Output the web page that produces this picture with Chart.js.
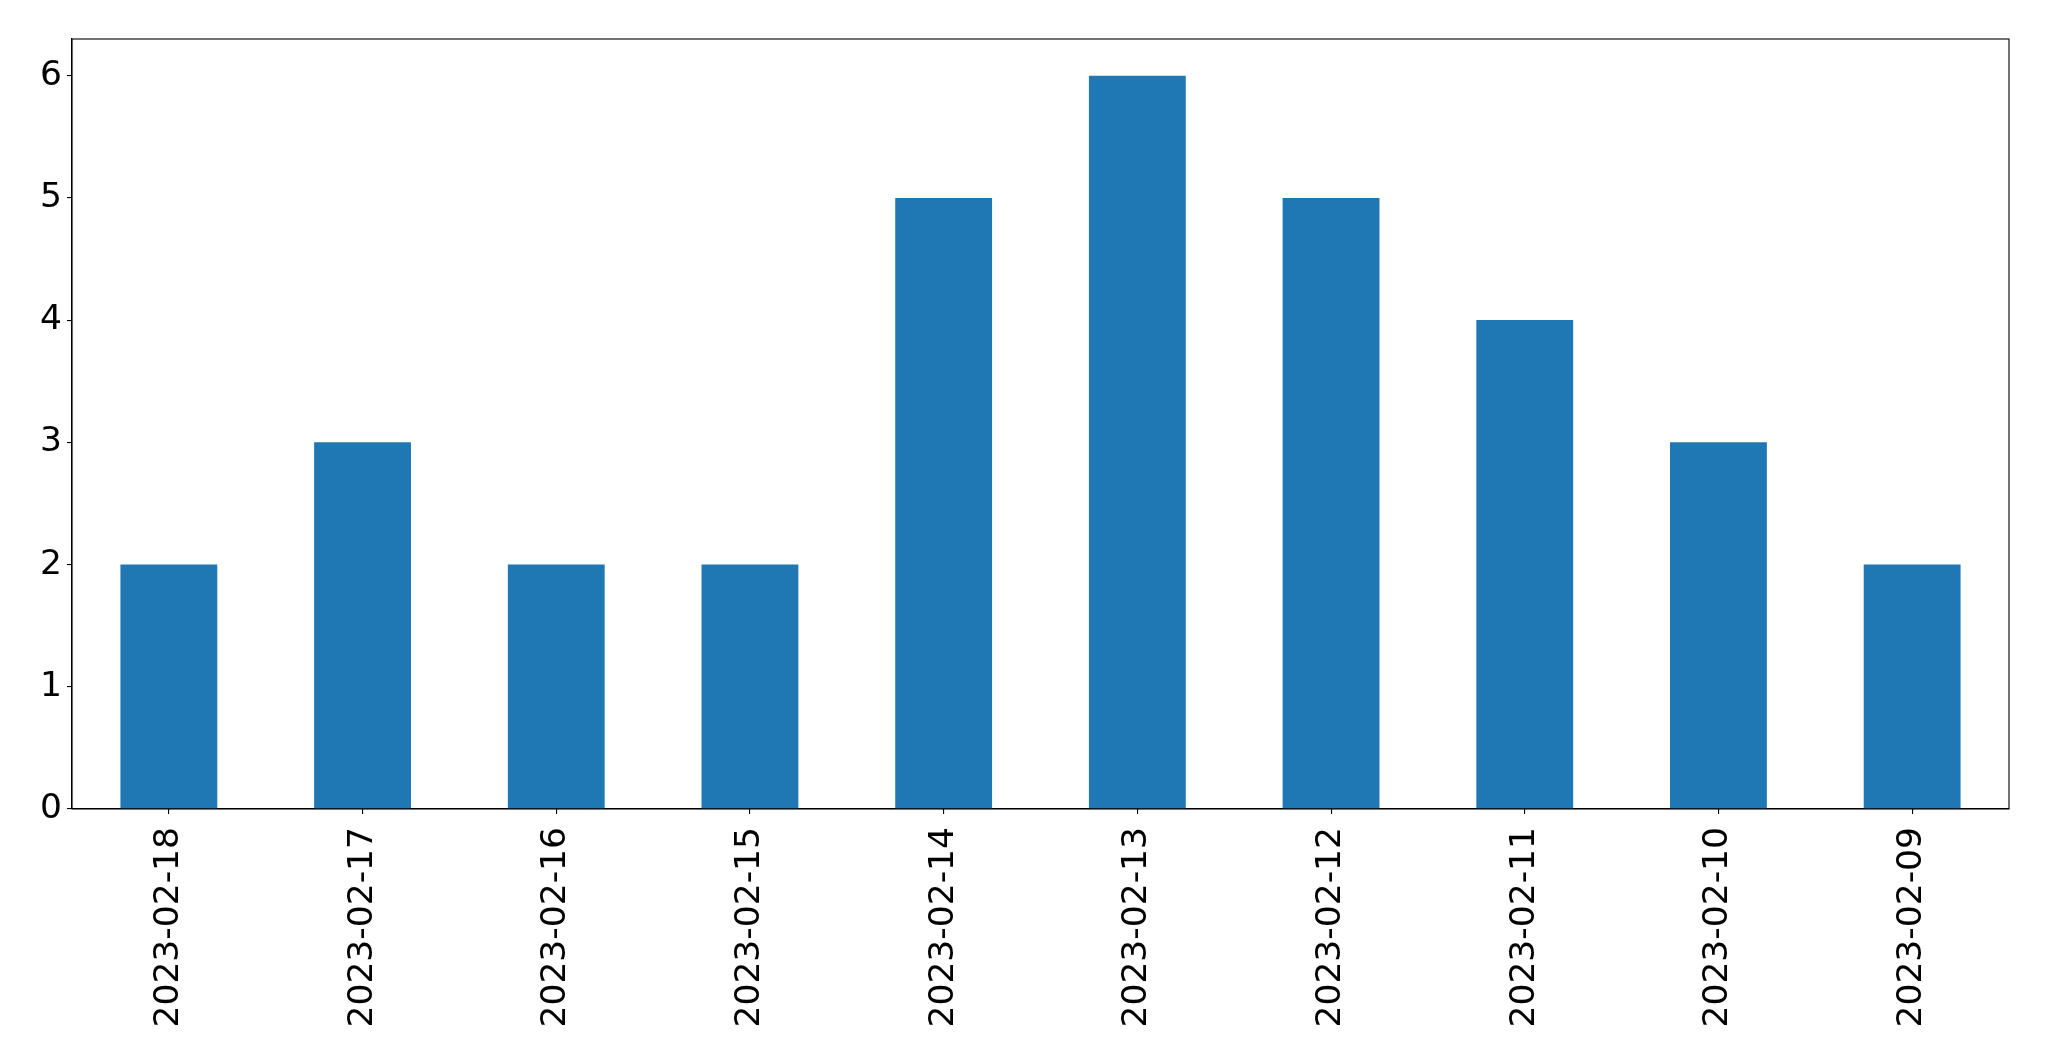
<!DOCTYPE html>
<html>
<head>
<meta charset="utf-8">
<script src="https://cdn.jsdelivr.net/npm/chart.js@4/dist/chart.umd.min.js"></script>
<style>
  html, body { margin: 0; padding: 0; background: #fff; }
  #wrap { width: 2049px; height: 1061px; }
</style>
</head>
<body>
<div id="wrap"><canvas id="barChart" width="2049" height="1061"></canvas></div>
<script>
const dates = ["2023-02-18", "2023-02-17", "2023-02-16", "2023-02-15", "2023-02-14",
               "2023-02-13", "2023-02-12", "2023-02-11", "2023-02-10", "2023-02-09"];
const counts = [2, 3, 2, 2, 5, 6, 5, 4, 3, 2];
const yTicks = [0, 1, 2, 3, 4, 5, 6];

// draws the top and right spines like matplotlib
const frameBox = {
    id: 'frameBox',
    afterDraw(chart) {
        const { ctx, chartArea: a } = chart;
        ctx.save();
        ctx.strokeStyle = '#000';
        ctx.lineWidth = 1.1;
        ctx.strokeRect(a.left, a.top, a.right - a.left, a.bottom - a.top);
        ctx.restore();
    }
};

document.addEventListener("DOMContentLoaded", () => {
    Chart.defaults.font.family = "'DejaVu Sans', sans-serif";
    Chart.defaults.font.size = 34.5;
    Chart.defaults.color = "#000";

    new Chart(document.getElementById('barChart'), {
        type: 'bar',
        data: {
            labels: dates,
            datasets: [{
                data: counts,
                backgroundColor: '#1f77b4',
                borderWidth: 0,
                barPercentage: 0.5,
                categoryPercentage: 1.0
            }]
        },
        options: {
            responsive: false,
            animation: false,
            layout: { padding: { left: 0, top: 39, right: 40, bottom: 0 } },
            plugins: { legend: { display: false }, tooltip: { enabled: false } },
            scales: {
                x: {
                    offset: true,
                    grid: { display: true, drawOnChartArea: false, drawTicks: true, tickLength: 5, color: '#000', lineWidth: 1.1, offset: false },
                    border: { display: true, color: '#000', width: 1.1 },
                    ticks: { maxRotation: 90, minRotation: 90, padding: 13, autoSkip: false },
                    afterFit: scale => { scale.height = 252; }
                },
                y: {
                    min: 0,
                    max: 6.3,
                    grid: { display: true, drawOnChartArea: false, drawTicks: true, tickLength: 5, color: '#000', lineWidth: 1.1 },
                    border: { display: true, color: '#000', width: 1.1 },
                    ticks: { padding: 5 },
                    afterBuildTicks: scale => { scale.ticks = yTicks.map(v => ({ value: v })); },
                    afterFit: scale => { scale.width = 72; }
                }
            }
        },
        plugins: [frameBox]
    });
});
</script>
</body>
</html>
